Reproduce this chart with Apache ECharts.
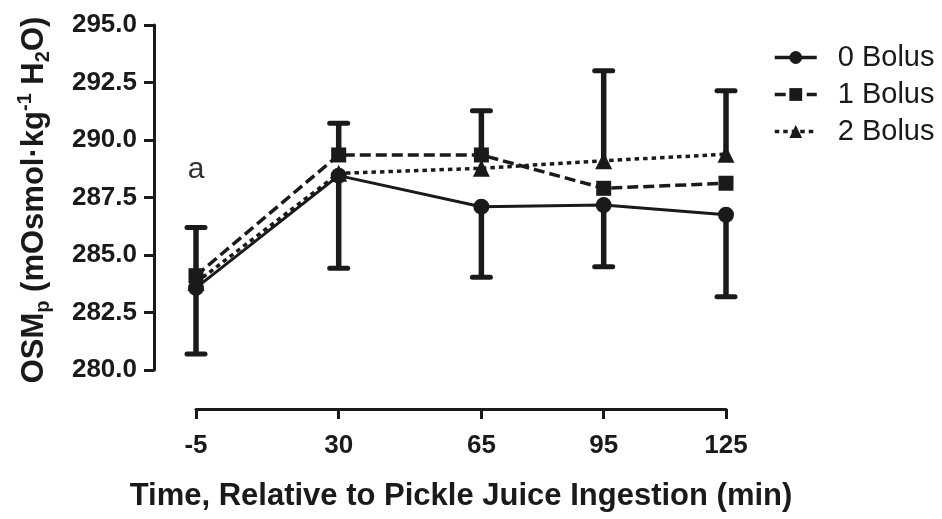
<!DOCTYPE html>
<html>
<head>
<meta charset="utf-8">
<script src="https://cdn.jsdelivr.net/npm/echarts@6/dist/echarts.min.js"></script>
<style>
html, body { margin: 0; padding: 0; background: #fff; }
#chart { width: 942px; height: 519px; }
</style>
</head>
<body>
<div id="chart"></div>
<script>
// time points (min, relative to pickle juice ingestion)
var times = [-5, 30, 65, 95, 125];

// mean plasma osmolality per group
var bolus0 = [283.57, 288.45, 287.1, 287.17, 286.75];
var bolus1 = [284.1, 289.35, 289.35, 287.9, 288.12];
var bolus2 = [283.8, 288.55, 288.77, 289.1, 289.38];

// error bar ends, only one side is drawn per group in the figure
var bolus0Low = [280.7, 284.42, 284.03, 284.49, 283.19];
var bolus1High = [286.2, 290.73, 291.27, null, null];
var bolus2High = [null, null, null, 293.01, 292.14];

var annotations = [{ time: -5, value: 288.7, text: 'a' }];

var ink = '#1a1a1a';
var font = '"Liberation Sans", Arial, sans-serif';

function pairs(values) {
    return times.map((t, i) => [t, values[i]]);
}

function bars(values, ends) {
    var out = [];
    times.forEach((t, i) => {
        if (ends[i] != null) out.push([t, values[i], ends[i]]);
    });
    return out;
}

var errorData = bars(bolus0, bolus0Low)
    .concat(bars(bolus1, bolus1High))
    .concat(bars(bolus2, bolus2High));

var chart = echarts.init(document.getElementById('chart'));

chart.setOption({
    animation: false,
    textStyle: { fontFamily: font },
    grid: { left: 196, right: 216, top: 25, bottom: 149, outerBoundsMode: 'none', containLabel: false },
    legend: {
        orient: 'vertical',
        left: 768,
        top: 38,
        itemWidth: 42,
        itemHeight: 16,
        itemGap: 8,
        lineStyle: { width: 3.5 },
        textStyle: { fontSize: 29, color: ink, fontFamily: font, padding: [0, 0, 0, 16] },
        data: ['0 Bolus', '1 Bolus', '2 Bolus']
    },
    xAxis: {
        type: 'value',
        min: times[0],
        max: times[times.length - 1],
        offset: 39,
        axisLine: { onZero: false, lineStyle: { color: ink, width: 3 } },
        axisTick: { show: true, length: 10, customValues: times, lineStyle: { color: ink, width: 3 } },
        axisLabel: {
            customValues: times,
            margin: 24,
            fontSize: 26,
            fontWeight: 'bold',
            color: ink,
            fontFamily: font
        },
        splitLine: { show: false },
        name: 'Time, Relative to Pickle Juice Ingestion (min)',
        nameLocation: 'middle',
        nameGap: 72,
        nameTextStyle: { fontSize: 31, fontWeight: 'bold', color: ink, fontFamily: font }
    },
    yAxis: {
        type: 'value',
        min: 280,
        max: 295,
        interval: 2.5,
        offset: 42,
        axisLine: { show: true, onZero: false, lineStyle: { color: ink, width: 3 } },
        axisTick: { show: true, length: 10, lineStyle: { color: ink, width: 3 } },
        axisLabel: {
            margin: 17,
            fontSize: 26,
            fontWeight: 'bold',
            color: ink,
            fontFamily: font,
            formatter: v => v.toFixed(1)
        },
        splitLine: { show: false }
    },
    graphic: [{
        type: 'text',
        x: 34,
        y: 200,
        rotation: Math.PI / 2,
        style: {
            text: '{b|OSM}{sub|p}{b| (mOsmol·kg}{sup|-1}{b| H}{sub|2}{b|O)}',
            align: 'center',
            verticalAlign: 'middle',
            fill: ink,
            rich: {
                b: { fontSize: 31, fontWeight: 'bold', fontFamily: font, lineHeight: 38, fill: ink },
                sub: { fontSize: 20, fontWeight: 'bold', fontFamily: font, lineHeight: 20, verticalAlign: 'bottom', fill: ink },
                sup: { fontSize: 20, fontWeight: 'bold', fontFamily: font, lineHeight: 20, verticalAlign: 'top', fill: ink }
            }
        }
    }],
    series: [
        {
            name: 'error',
            type: 'custom',
            encode: { x: 0, y: [1, 2] },
            data: errorData,
            z: 1,
            renderItem: function (params, api) {
                var x = api.value(0);
                var p0 = api.coord([x, api.value(1)]);
                var p1 = api.coord([x, api.value(2)]);
                return {
                    type: 'group',
                    children: [
                        { type: 'line', shape: { x1: p0[0], y1: p0[1], x2: p1[0], y2: p1[1] }, style: { stroke: ink, lineWidth: 5.5 } },
                        { type: 'line', shape: { x1: p1[0] - 9, y1: p1[1], x2: p1[0] + 9, y2: p1[1] }, style: { stroke: ink, lineWidth: 5, lineCap: 'round' } }
                    ]
                };
            }
        },
        {
            name: '0 Bolus',
            type: 'line',
            data: pairs(bolus0),
            symbol: 'circle',
            symbolSize: 16,
            itemStyle: { color: ink },
            lineStyle: { color: ink, width: 3 },
            markPoint: {
                symbol: 'circle',
                symbolSize: 0,
                data: annotations.map(a => ({
                    coord: [a.time, a.value],
                    label: { show: true, position: 'inside', formatter: a.text, fontSize: 30, color: '#333', fontFamily: font }
                }))
            }
        },
        {
            name: '1 Bolus',
            type: 'line',
            data: pairs(bolus1),
            symbol: 'rect',
            symbolSize: 15,
            itemStyle: { color: ink },
            lineStyle: { color: ink, width: 3.5, type: [11, 5] }
        },
        {
            name: '2 Bolus',
            type: 'line',
            data: pairs(bolus2),
            symbol: 'triangle',
            symbolSize: 17,
            itemStyle: { color: ink },
            lineStyle: { color: ink, width: 3.5, type: [4.5, 4] }
        }
    ]
});
</script>
</body>
</html>
